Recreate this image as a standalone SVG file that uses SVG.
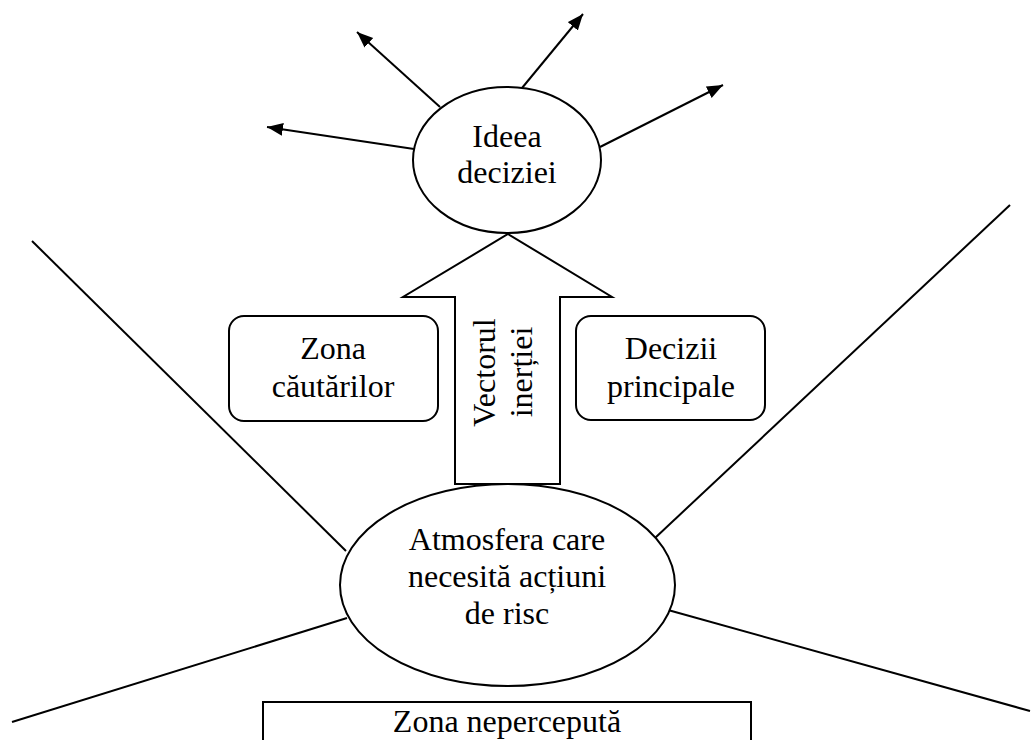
<svg xmlns="http://www.w3.org/2000/svg" width="1033" height="740" viewBox="0 0 1033 740">
<style>
.t{font-family:"Liberation Serif","Times New Roman",serif;font-size:32px;fill:#000;text-anchor:middle}
.s{fill:#fff;stroke:#000;stroke-width:2}
.l{fill:none;stroke:#000;stroke-width:2}
</style>
<defs>
<marker id="ah" markerUnits="userSpaceOnUse" markerWidth="16" markerHeight="14" refX="16" refY="6.5" orient="auto">
<path d="M0,0 L16,6.5 L0,13 z" fill="#000"/>
</marker>
</defs>
<rect width="1033" height="740" fill="#fff"/>
<g id="connectors">
<line class="l" x1="440" y1="107" x2="357" y2="32" marker-end="url(#ah)"/>
<line class="l" x1="522" y1="88" x2="583" y2="14" marker-end="url(#ah)"/>
<line class="l" x1="600" y1="147" x2="723" y2="85" marker-end="url(#ah)"/>
<line class="l" x1="414" y1="149" x2="267" y2="127" marker-end="url(#ah)"/>
<line class="l" x1="32" y1="241" x2="346" y2="551"/>
<line class="l" x1="1010" y1="205" x2="655" y2="538"/>
<line class="l" x1="12" y1="722" x2="347" y2="618"/>
<line class="l" x1="668" y1="610" x2="1030" y2="711"/>
</g>
<g id="ideea">
<ellipse class="s" cx="507" cy="160" rx="94" ry="73"/>
<text class="t" x="507" y="147">Ideea</text>
<text class="t" x="507" y="183">deciziei</text>
</g>
<g id="vector">
<polygon class="s" points="508,234 612,297 560,297 560,484 455,484 455,297 403,297"/>
<text class="t" transform="translate(495,372.5) rotate(-90)">Vectorul</text>
<text class="t" transform="translate(532,372) rotate(-90)">inerției</text>
</g>
<g id="zona-cautarilor">
<rect class="s" x="229" y="316" width="209" height="105" rx="15"/>
<text class="t" x="333" y="359">Zona</text>
<text class="t" x="333" y="397">căutărilor</text>
</g>
<g id="decizii-principale">
<rect class="s" x="576" y="316" width="189" height="104" rx="15"/>
<text class="t" x="671" y="359">Decizii</text>
<text class="t" x="671" y="397">principale</text>
</g>
<g id="atmosfera">
<ellipse class="s" cx="507.5" cy="585" rx="167.5" ry="101"/>
<text class="t" x="507" y="550">Atmosfera care</text>
<text class="t" x="507" y="587">necesită acțiuni</text>
<text class="t" x="507" y="624">de risc</text>
</g>
<g id="zona-nepercepută">
<rect class="s" x="263" y="702" width="488" height="60"/>
<text class="t" x="507" y="732">Zona nepercepută</text>
</g>
</svg>
